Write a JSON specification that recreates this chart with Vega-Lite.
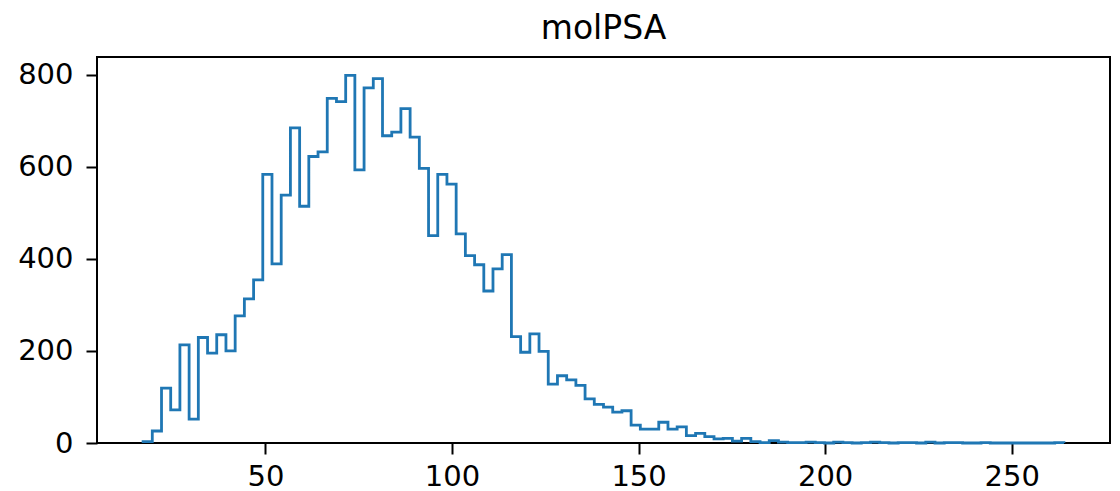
{
  "$schema": "https://vega.github.io/schema/vega-lite/v6.json",
  "width": 1013,
  "height": 386,
  "autosize": {"type": "none"},
  "padding": {"left": 97, "top": 57, "right": 10, "bottom": 48},
  "background": "white",
  "title": {"text": "molPSA", "font": "DejaVu Sans", "fontSize": 33, "fontWeight": "normal", "color": "black", "anchor": "middle", "frame": "group", "offset": 11},
  "config": {"view": {"stroke": "black", "strokeWidth": 2}},
  "data": {"values": [
    {"ord": 0, "edge": 17.20, "count": 0},
    {"ord": 1, "edge": 17.20, "count": 3},
    {"ord": 2, "edge": 19.67, "count": 26},
    {"ord": 3, "edge": 22.14, "count": 119},
    {"ord": 4, "edge": 24.60, "count": 72},
    {"ord": 5, "edge": 27.07, "count": 213},
    {"ord": 6, "edge": 29.54, "count": 52},
    {"ord": 7, "edge": 32.01, "count": 229},
    {"ord": 8, "edge": 34.48, "count": 195},
    {"ord": 9, "edge": 36.94, "count": 235},
    {"ord": 10, "edge": 39.41, "count": 200},
    {"ord": 11, "edge": 41.88, "count": 276},
    {"ord": 12, "edge": 44.35, "count": 313},
    {"ord": 13, "edge": 46.82, "count": 354},
    {"ord": 14, "edge": 49.28, "count": 583},
    {"ord": 15, "edge": 51.75, "count": 389},
    {"ord": 16, "edge": 54.22, "count": 538},
    {"ord": 17, "edge": 56.69, "count": 684},
    {"ord": 18, "edge": 59.16, "count": 514},
    {"ord": 19, "edge": 61.62, "count": 622},
    {"ord": 20, "edge": 64.09, "count": 632},
    {"ord": 21, "edge": 66.56, "count": 748},
    {"ord": 22, "edge": 69.03, "count": 741},
    {"ord": 23, "edge": 71.50, "count": 798},
    {"ord": 24, "edge": 73.96, "count": 593},
    {"ord": 25, "edge": 76.43, "count": 771},
    {"ord": 26, "edge": 78.90, "count": 791},
    {"ord": 27, "edge": 81.37, "count": 667},
    {"ord": 28, "edge": 83.84, "count": 675},
    {"ord": 29, "edge": 86.30, "count": 726},
    {"ord": 30, "edge": 88.77, "count": 664},
    {"ord": 31, "edge": 91.24, "count": 596},
    {"ord": 32, "edge": 93.71, "count": 450},
    {"ord": 33, "edge": 96.18, "count": 583},
    {"ord": 34, "edge": 98.64, "count": 562},
    {"ord": 35, "edge": 101.11, "count": 454},
    {"ord": 36, "edge": 103.58, "count": 407},
    {"ord": 37, "edge": 106.05, "count": 387},
    {"ord": 38, "edge": 108.52, "count": 330},
    {"ord": 39, "edge": 110.98, "count": 378},
    {"ord": 40, "edge": 113.45, "count": 409},
    {"ord": 41, "edge": 115.92, "count": 231},
    {"ord": 42, "edge": 118.39, "count": 197},
    {"ord": 43, "edge": 120.86, "count": 237},
    {"ord": 44, "edge": 123.32, "count": 199},
    {"ord": 45, "edge": 125.79, "count": 128},
    {"ord": 46, "edge": 128.26, "count": 146},
    {"ord": 47, "edge": 130.73, "count": 137},
    {"ord": 48, "edge": 133.20, "count": 125},
    {"ord": 49, "edge": 135.66, "count": 96},
    {"ord": 50, "edge": 138.13, "count": 84},
    {"ord": 51, "edge": 140.60, "count": 78},
    {"ord": 52, "edge": 143.07, "count": 67},
    {"ord": 53, "edge": 145.54, "count": 70},
    {"ord": 54, "edge": 148.00, "count": 39},
    {"ord": 55, "edge": 150.47, "count": 30},
    {"ord": 56, "edge": 152.94, "count": 30},
    {"ord": 57, "edge": 155.41, "count": 45},
    {"ord": 58, "edge": 157.88, "count": 30},
    {"ord": 59, "edge": 160.34, "count": 35},
    {"ord": 60, "edge": 162.81, "count": 16},
    {"ord": 61, "edge": 165.28, "count": 21},
    {"ord": 62, "edge": 167.75, "count": 14},
    {"ord": 63, "edge": 170.22, "count": 9},
    {"ord": 64, "edge": 172.68, "count": 10},
    {"ord": 65, "edge": 175.15, "count": 4},
    {"ord": 66, "edge": 177.62, "count": 10},
    {"ord": 67, "edge": 180.09, "count": 3},
    {"ord": 68, "edge": 182.56, "count": 1},
    {"ord": 69, "edge": 185.02, "count": 5},
    {"ord": 70, "edge": 187.49, "count": 2},
    {"ord": 71, "edge": 189.96, "count": 1},
    {"ord": 72, "edge": 192.43, "count": 1},
    {"ord": 73, "edge": 194.90, "count": 2},
    {"ord": 74, "edge": 197.36, "count": 1},
    {"ord": 75, "edge": 199.83, "count": 0},
    {"ord": 76, "edge": 202.30, "count": 2},
    {"ord": 77, "edge": 204.77, "count": 1},
    {"ord": 78, "edge": 207.24, "count": 0},
    {"ord": 79, "edge": 209.70, "count": 1},
    {"ord": 80, "edge": 212.17, "count": 2},
    {"ord": 81, "edge": 214.64, "count": 1},
    {"ord": 82, "edge": 217.11, "count": 0},
    {"ord": 83, "edge": 219.58, "count": 1},
    {"ord": 84, "edge": 222.04, "count": 1},
    {"ord": 85, "edge": 224.51, "count": 0},
    {"ord": 86, "edge": 226.98, "count": 2},
    {"ord": 87, "edge": 229.45, "count": 0},
    {"ord": 88, "edge": 231.92, "count": 1},
    {"ord": 89, "edge": 234.38, "count": 1},
    {"ord": 90, "edge": 236.85, "count": 0},
    {"ord": 91, "edge": 239.32, "count": 0},
    {"ord": 92, "edge": 241.79, "count": 1},
    {"ord": 93, "edge": 244.26, "count": 0},
    {"ord": 94, "edge": 246.72, "count": 0},
    {"ord": 95, "edge": 249.19, "count": 0},
    {"ord": 96, "edge": 251.66, "count": 0},
    {"ord": 97, "edge": 254.13, "count": 0},
    {"ord": 98, "edge": 256.60, "count": 0},
    {"ord": 99, "edge": 259.06, "count": 0},
    {"ord": 100, "edge": 261.53, "count": 1},
    {"ord": 101, "edge": 264.00, "count": 0}
  ]},
  "mark": {"type": "line", "interpolate": "step-after", "color": "#1f77b4", "strokeWidth": 2.8},
  "encoding": {
    "x": {
      "field": "edge", "type": "quantitative",
      "scale": {"domain": [4.85, 276.35], "nice": false, "zero": false},
      "axis": {"title": null, "values": [50, 100, 150, 200, 250], "grid": false, "domain": false, "ticks": true, "tickSize": 11, "tickWidth": 2, "tickColor": "black", "labelFont": "DejaVu Sans", "labelFontSize": 29, "labelColor": "black", "labelPadding": 8}
    },
    "y": {
      "field": "count", "type": "quantitative",
      "scale": {"domain": [0, 838], "nice": false},
      "axis": {"title": null, "values": [0, 200, 400, 600, 800], "grid": false, "domain": false, "ticks": true, "tickSize": 11, "tickWidth": 2, "tickColor": "black", "labelFont": "DejaVu Sans", "labelFontSize": 29, "labelColor": "black", "labelPadding": 13}
    },
    "order": {"field": "ord", "type": "quantitative"}
  }
}
